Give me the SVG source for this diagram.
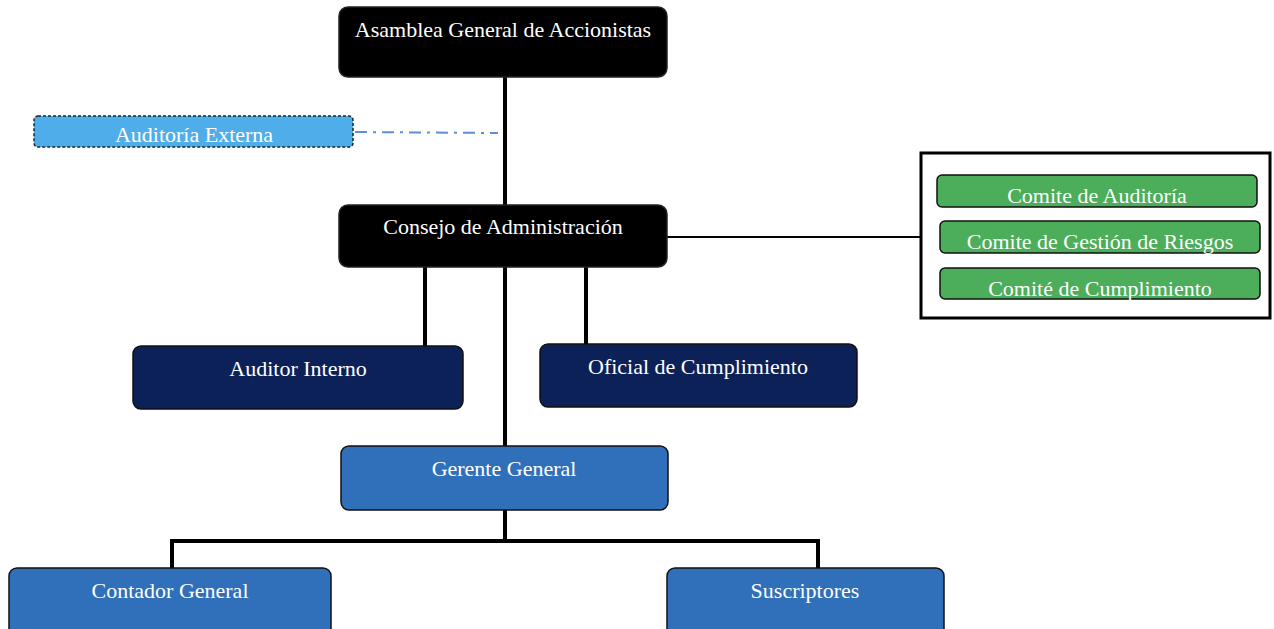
<svg xmlns="http://www.w3.org/2000/svg" width="1274" height="629" viewBox="0 0 1274 629">
<style>
  .t{font-family:"Liberation Serif","Times New Roman",serif;fill:#fff;text-anchor:middle}
  .big{font-size:22px}
  .sm{font-size:22px}
  .blk{fill:#000;stroke:#222;stroke-width:1.5}
  .navy{fill:#0C2158;stroke:#111;stroke-width:1.5}
  .blue{fill:#306FBA;stroke:#111;stroke-width:1.5}
  .green{fill:#4CAD5B;stroke:#111;stroke-width:1.5}
  .ln{stroke:#000;stroke-width:4;fill:none}
</style>
<rect width="1274" height="629" fill="#fff"/>
<g id="connectors">
  <line class="ln" x1="505" y1="77" x2="505" y2="446"/>
  <line class="ln" x1="425" y1="267" x2="425" y2="346"/>
  <line class="ln" x1="586" y1="267" x2="586" y2="344"/>
  <line x1="667" y1="237" x2="921" y2="237" stroke="#000" stroke-width="2"/>
  <line x1="355" y1="132" x2="498" y2="133" stroke="#5E8FD6" stroke-width="2" stroke-dasharray="12,6,3,6"/>
  <path class="ln" d="M505 510 V541 M172 568 V541 H818 V568"/>
</g>
<g id="asamblea">
  <rect class="blk" x="339" y="7" width="328" height="70" rx="9"/>
  <text class="t big" x="503" y="37">Asamblea General de Accionistas</text>
</g>
<g id="auditoria-externa">
  <rect x="34" y="116" width="319" height="31" rx="4" fill="#4FAEE9" stroke="#222" stroke-width="1.5" stroke-dasharray="3,2"/>
  <text class="t sm" x="194" y="142">Auditoría Externa</text>
</g>
<g id="consejo">
  <rect class="blk" x="339" y="205" width="328" height="62" rx="9"/>
  <text class="t big" x="503" y="234">Consejo de Administración</text>
</g>
<g id="comites">
  <rect x="921" y="153" width="349" height="165" fill="#fff" stroke="#000" stroke-width="3"/>
  <g id="comite-auditoria">
    <rect class="green" x="937" y="175" width="320" height="32" rx="5"/>
    <text class="t sm" x="1097" y="203">Comite de Auditoría</text>
  </g>
  <g id="comite-riesgos">
    <rect class="green" x="940" y="221" width="320" height="32" rx="5"/>
    <text class="t sm" x="1100" y="249">Comite de Gestión de Riesgos</text>
  </g>
  <g id="comite-cumplimiento">
    <rect class="green" x="940" y="268" width="320" height="31" rx="5"/>
    <text class="t sm" x="1100" y="296">Comité de Cumplimiento</text>
  </g>
</g>
<g id="auditor-interno">
  <rect class="navy" x="133" y="346" width="330" height="63" rx="8"/>
  <text class="t big" x="298" y="376">Auditor Interno</text>
</g>
<g id="oficial">
  <rect class="navy" x="540" y="344" width="317" height="63" rx="8"/>
  <text class="t big" x="698" y="374">Oficial de Cumplimiento</text>
</g>
<g id="gerente">
  <rect class="blue" x="341" y="446" width="327" height="64" rx="8"/>
  <text class="t big" x="504" y="476">Gerente General</text>
</g>
<g id="contador">
  <rect class="blue" x="9" y="568" width="322" height="70" rx="8"/>
  <text class="t big" x="170" y="598">Contador General</text>
</g>
<g id="suscriptores">
  <rect class="blue" x="667" y="568" width="277" height="70" rx="8"/>
  <text class="t big" x="805" y="598">Suscriptores</text>
</g>
</svg>
